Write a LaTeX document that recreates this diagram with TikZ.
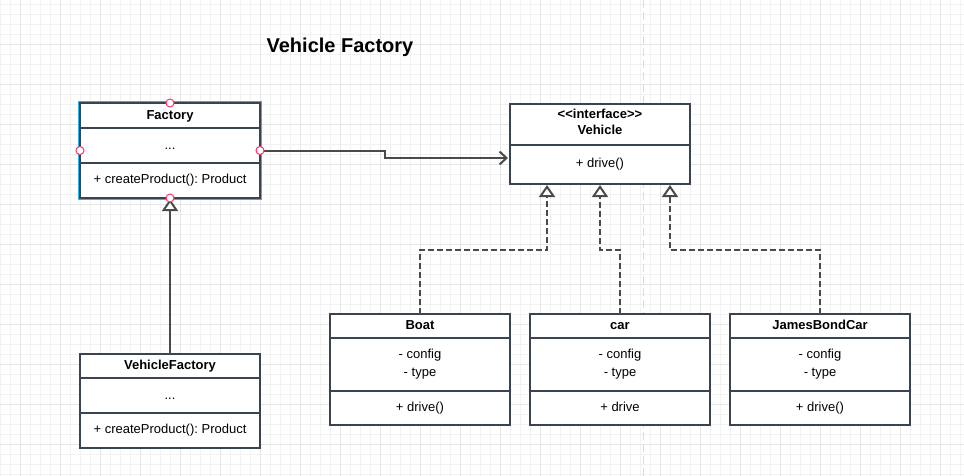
\documentclass[tikz,border=0pt]{standalone}
\usepackage{fontspec}
\setmainfont{Liberation Sans}
\usetikzlibrary{arrows.meta}
\definecolor{boxc}{HTML}{3A4350}
\definecolor{linec}{HTML}{4A4A4A}
\definecolor{gridminor}{HTML}{F2F2F2}
\definecolor{gridmajor}{HTML}{E6E6E6}
\definecolor{selblue}{HTML}{29B6F2}
\definecolor{handlec}{HTML}{FF3366}
\definecolor{guidec}{HTML}{DADADA}
\frenchspacing
\begin{document}
\begin{tikzpicture}[x=1pt,y=-1pt,
  classbox/.style={draw=boxc, fill=white, line width=2pt, anchor=north west, inner sep=0pt, outer sep=0pt, minimum width=180pt},
  sepline/.style={draw=boxc, line width=2pt},
  txt/.style={anchor=base, inner sep=0pt, font=\fontsize{13}{15}\selectfont},
  btxt/.style={anchor=base, inner sep=0pt, font=\bfseries\fontsize{13}{15}\selectfont},
  assoc/.style={draw=linec, line width=2pt, -{Straight Barb[length=7pt,width=13pt]}},
  gen/.style={draw=linec, line width=2pt, -{Triangle[fill=white,length=12pt,width=16pt]}},
  real/.style={draw=linec, line width=2pt, dash pattern=on 6pt off 3pt, -{Triangle[fill=white,length=12pt,width=16pt]}},
  handle/.style={circle, draw=handlec, fill=white, line width=1pt, inner sep=0pt, minimum size=8pt}
]
\fill[white] (0,0) rectangle (964,476);
\useasboundingbox (0,0) rectangle (964,476);
% grid
\foreach \x in {0,10,...,960} \draw[gridminor, line width=0.8pt] (\x,0) -- (\x,476);
\foreach \y in {4,14,...,474} \draw[gridminor, line width=0.8pt] (0,\y) -- (964,\y);
\foreach \x in {20,60,...,940} \draw[gridmajor, line width=0.8pt] (\x,0) -- (\x,476);
\foreach \y in {44,84,...,444} \draw[gridmajor, line width=0.8pt] (0,\y) -- (964,\y);
% page guide
\draw[guidec, line width=1pt, dash pattern=on 8pt off 4pt] (643,0) -- (643,476);

% title
\node[anchor=base, inner sep=0pt, font=\bfseries\fontsize{20}{24}\selectfont] (title) at (340,53) {Vehicle Factory};

% Factory (selected)
\draw[selblue, line width=1.2pt] (78.2,101.2) rectangle (261.8,199.8);
\node[classbox, minimum height=95pt] (factory) at (80,103) {};
\draw[sepline] ([yshift=-25pt]factory.north west) -- ([yshift=-25pt]factory.north east);
\draw[sepline] ([yshift=-60pt]factory.north west) -- ([yshift=-60pt]factory.north east);
\node[btxt] (factoryname) at (170,119.3) {Factory};
\node[txt] (factoryattr) at (170,149.3) {...};
\node[txt] (factoryop) at (170,183.3) {+ createProduct(): Product};

% Vehicle interface
\node[classbox, minimum height=80pt] (vehicle) at (510,104) {};
\draw[sepline] ([yshift=-41pt]vehicle.north west) -- ([yshift=-41pt]vehicle.north east);
\node[btxt] (vehiclester) at (600,118.3) {<{}<interface>{}>};
\node[btxt] (vehiclename) at (600,134.3) {Vehicle};
\node[txt] (vehicleop) at (600,167.7) {+ drive()};

% VehicleFactory
\node[classbox, minimum height=94pt] (vfactory) at (80,354) {};
\draw[sepline] ([yshift=-24pt]vfactory.north west) -- ([yshift=-24pt]vfactory.north east);
\draw[sepline] ([yshift=-59pt]vfactory.north west) -- ([yshift=-59pt]vfactory.north east);
\node[btxt] (vfactoryname) at (170,369.3) {VehicleFactory};
\node[txt] (vfactoryattr) at (170,399.3) {...};
\node[txt] (vfactoryop) at (170,433.3) {+ createProduct(): Product};

% Boat
\node[classbox, minimum height=111pt] (boat) at (330,314) {};
\draw[sepline] ([yshift=-24pt]boat.north west) -- ([yshift=-24pt]boat.north east);
\draw[sepline] ([yshift=-77pt]boat.north west) -- ([yshift=-77pt]boat.north east);
\node[btxt] (boatname) at (420,329.3) {Boat};
\node[txt] (boata1) at (420,358.3) {- config};
\node[txt] (boata2) at (420,376) {- type};
\node[txt] (boatop) at (420,411) {+ drive()};

% car
\node[classbox, minimum height=111pt] (car) at (530,314) {};
\draw[sepline] ([yshift=-24pt]car.north west) -- ([yshift=-24pt]car.north east);
\draw[sepline] ([yshift=-77pt]car.north west) -- ([yshift=-77pt]car.north east);
\node[btxt] (carname) at (620,329.3) {car};
\node[txt] (cara1) at (620,358.3) {- config};
\node[txt] (cara2) at (620,376) {- type};
\node[txt] (carop) at (620,411) {+ drive};

% JamesBondCar
\node[classbox, minimum height=111pt] (jbc) at (730,314) {};
\draw[sepline] ([yshift=-24pt]jbc.north west) -- ([yshift=-24pt]jbc.north east);
\draw[sepline] ([yshift=-77pt]jbc.north west) -- ([yshift=-77pt]jbc.north east);
\node[btxt] (jbcname) at (820,329.3) {JamesBondCar};
\node[txt] (jbca1) at (820,358.3) {- config};
\node[txt] (jbca2) at (820,376) {- type};
\node[txt] (jbcop) at (820,411) {+ drive()};

% connectors
\draw[assoc] ([yshift=-0.5pt]factory.east) -- ++(125,0) |- ([yshift=-14pt,xshift=-2pt]vehicle.west);
\draw[gen] (vfactory.north) -- ([yshift=-1pt]factory.south);
\draw[real] (boat.north) -- ++(0,-64) -| ([xshift=-53pt,yshift=-1pt]vehicle.south);
\draw[real] (car.north) -- ++(0,-64) -| ([yshift=-1pt]vehicle.south);
\draw[real] (jbc.north) -- ++(0,-64) -| ([xshift=70pt,yshift=-1pt]vehicle.south);

% selection handles
\node[handle] (htop) at (factory.north) {};
\node[handle] (hleft) at (factory.west) {};
\node[handle] (hright) at (factory.east) {};
\node[handle] (hbottom) at (factory.south) {};
\end{tikzpicture}
\end{document}
